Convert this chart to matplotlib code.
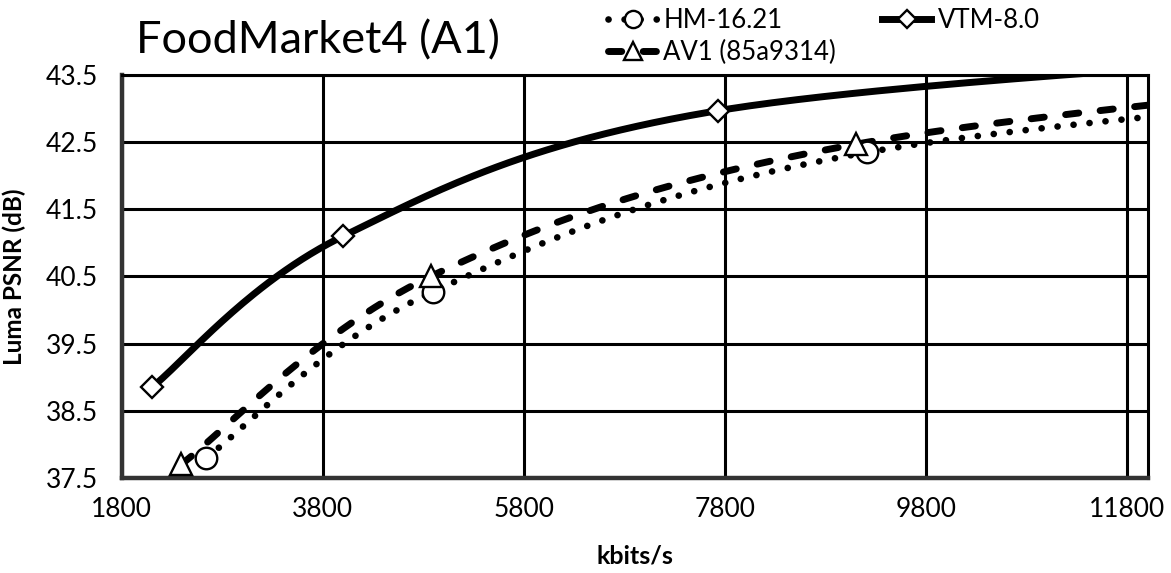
import numpy as np
import matplotlib.pyplot as plt

plt.rcParams['font.family'] = ['Lato', 'DejaVu Sans']

# rate (kbits/s) and luma PSNR (dB) per codec
hm_rate = [2640, 4890, 9215, 17500]
hm_psnr = [37.80, 40.27, 42.35, 43.60]
vtm_rate = [2100, 4000, 7730, 15500]
vtm_psnr = [38.85, 41.10, 42.97, 43.95]
av1_rate = [2390, 4870, 9100, 17000]
av1_psnr = [37.70, 40.50, 42.47, 43.80]

x_ticks = [1800, 3800, 5800, 7800, 9800, 11800]
y_ticks = [37.5, 38.5, 39.5, 40.5, 41.5, 42.5, 43.5]


def smooth_curve(ax, xs, ys, n=60):
    # spreadsheet-style smoothed line: cubic bezier with 1/6 tangents, done in pixel space
    pts = ax.transData.transform(np.column_stack([xs, ys]))
    out = []
    t = np.linspace(0, 1, n)[:, None]
    for i in range(len(pts) - 1):
        p0 = pts[i - 1] if i > 0 else pts[i]
        p1 = pts[i]
        p2 = pts[i + 1]
        p3 = pts[i + 2] if i + 2 < len(pts) else pts[i + 1]
        c1 = p1 + (p2 - p0) / 6
        c2 = p2 - (p3 - p1) / 6
        seg = ((1 - t) ** 3) * p1 + 3 * ((1 - t) ** 2) * t * c1 + 3 * (1 - t) * t ** 2 * c2 + t ** 3 * p2
        out.append(seg)
    out = np.vstack(out)
    data = ax.transData.inverted().transform(out)
    return data[:, 0], data[:, 1]


fig = plt.figure(figsize=(11.71, 5.73), dpi=100)
ax = fig.add_axes([0.104, 0.166, 0.876, 0.703])
ax.set_xlim(1800, 12000)
ax.set_ylim(37.5, 43.5)

ax.set_xticks(x_ticks)
ax.set_yticks(y_ticks)
ax.set_xticklabels([str(v) for v in x_ticks], fontsize=19)
ax.set_yticklabels([f'{v:.1f}' for v in y_ticks], fontsize=19)
ax.tick_params(length=0)
ax.tick_params(axis='y', pad=17)
ax.tick_params(axis='x', pad=14)
ax.grid(True, color='black', linewidth=2.2)
ax.set_axisbelow(True)
for side in ['top', 'right']:
    ax.spines[side].set_linewidth(2.2)
    ax.spines[side].set_color('black')
for side in ['left', 'bottom']:
    ax.spines[side].set_linewidth(3.2)
    ax.spines[side].set_color('#333333')

series = [
    ('HM-16.21', hm_rate, hm_psnr, 'o', 15.5, (0, (0.01, 2.4)), 4.8),
    ('VTM-8.0', vtm_rate, vtm_psnr, 'D', 11.5, '-', 5.0),
    ('AV1 (85a9314)', av1_rate, av1_psnr, '^', 15.5, (0, (1.9, 3.1)), 5.0),
]

handles = {}
for name, rate, psnr, mk, ms, ls, lw in series:
    cx, cy = smooth_curve(ax, rate, psnr)
    ax.plot(cx, cy, color='black', linestyle=ls, linewidth=lw,
            dash_capstyle='round', solid_capstyle='butt', zorder=3)
    ax.plot(rate, psnr, linestyle='none', marker=mk, markersize=ms,
            markerfacecolor='white', markeredgecolor='black',
            markeredgewidth=1.7, zorder=4)
    handles[name] = plt.Line2D([], [], color='black', linestyle=ls, linewidth=lw,
                               dash_capstyle='round', marker=mk, markersize=ms * 0.8,
                               markerfacecolor='white', markeredgecolor='black',
                               markeredgewidth=1.7)

ax.set_xlabel('kbits/s', fontsize=18, fontweight='bold', labelpad=16)
ax.set_ylabel('Luma PSNR (dB)', fontsize=17.5, fontweight='bold', labelpad=14)

fig.text(0.116, 0.9075, 'FoodMarket4 (A1)', fontsize=32.5, va='baseline', ha='left')

order = ['HM-16.21', 'AV1 (85a9314)', 'VTM-8.0']
fig.legend([handles[k] for k in order], order, loc='upper left',
           bbox_to_anchor=(0.515, 0.995), ncol=2, frameon=False, fontsize=18.5,
           handlelength=1.9, handletextpad=0.25, columnspacing=1.8,
           labelspacing=0.25, borderpad=0.2, borderaxespad=0.0, numpoints=1)

fig.savefig('out.png', dpi=100)
